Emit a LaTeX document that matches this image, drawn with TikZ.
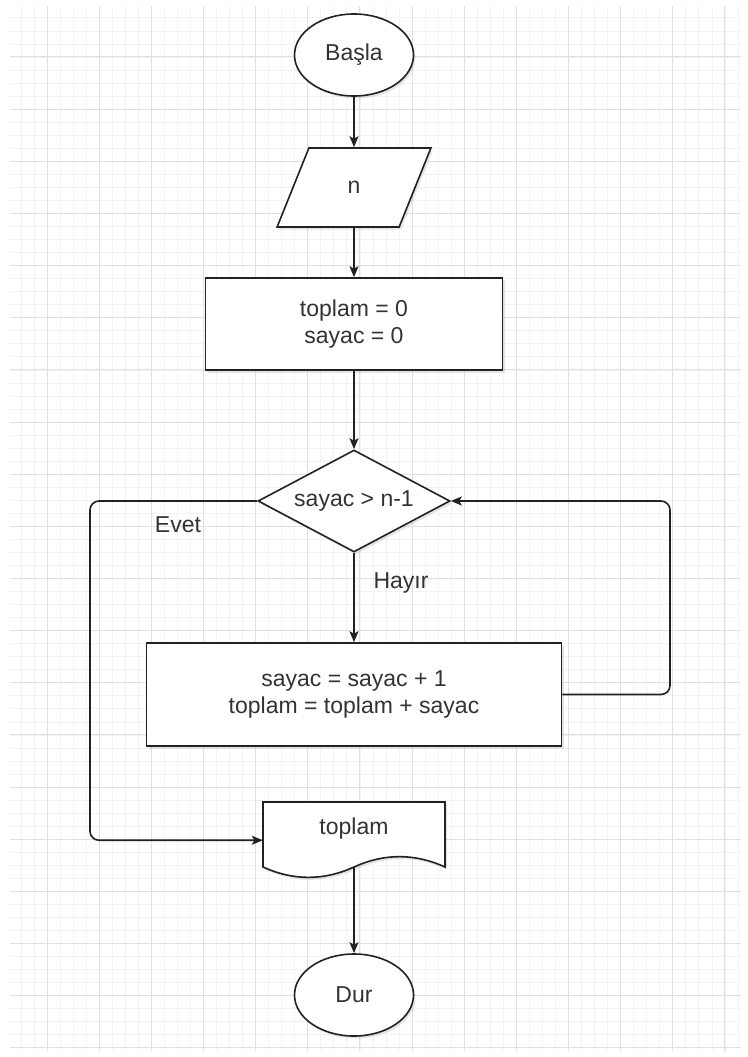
\documentclass[tikz,border=0pt]{standalone}
\usepackage{fontspec}
\setmainfont{Liberation Sans}
\usepackage{tikz}
\usetikzlibrary{shapes.geometric}
\usetikzlibrary{arrows.meta}
\usetikzlibrary{shadows}
\usetikzlibrary{calc}

\definecolor{gridminor}{HTML}{F3F3F3}
\definecolor{gridmajor}{HTML}{E0E0E0}
\definecolor{ink}{HTML}{222222}
\definecolor{labelgray}{HTML}{333333}

\begin{document}
\begin{tikzpicture}[x=1pt, y=-1pt,
    every node/.style={font=\fontsize{23}{27}\selectfont, text=labelgray},
    shapeline/.style={draw=ink, line width=1.6pt, fill=white, drop shadow={shadow xshift=2pt, shadow yshift=-2.5pt, opacity=0.2}},
    terminal/.style={shapeline, ellipse, minimum width=119pt, minimum height=82pt, inner sep=0pt},
    inbox/.style={shapeline, trapezium, trapezium left angle=70, trapezium right angle=110, trapezium stretches=true, minimum width=154pt, minimum height=79pt, inner sep=0pt},
    procbox/.style={shapeline, rectangle, align=center, inner sep=0pt},
    testbox/.style={shapeline, diamond, aspect=1.9, minimum width=192pt, minimum height=102pt, inner sep=0pt},
    flow/.style={draw=ink, line width=1.6pt, -{Stealth[length=11pt, width=9pt, inset=2.5pt]}},
]
    \useasboundingbox (0,0) rectangle (747,1057);
    \fill[white] (0,0) rectangle (747,1057);

    % grid
    \foreach \m in {-2,...,53}
        \draw[gridminor, line width=0.8pt] ({47+13.0375*\m},6) -- ({47+13.0375*\m},1051);
    \foreach \m in {-3,...,76}
        \draw[gridminor, line width=0.8pt] (10,{57+13.0375*\m}) -- (741,{57+13.0375*\m});
    \foreach \k in {0,...,13}
        \draw[gridmajor, line width=1pt] ({47+52.15*\k},6) -- ({47+52.15*\k},1051);
    \foreach \k in {0,...,19}
        \draw[gridmajor, line width=1pt] (10,{57+52.15*\k}) -- (741,{57+52.15*\k});

    \node[terminal] (start) at (354,55) {Başla};
    \node[inbox] (read) at (354,187.5) {n};
    \node[procbox, minimum width=297pt, minimum height=92pt] (init) at (354,324) {toplam = 0\\sayac = 0};
    \node[testbox] (test) at (354,501) {sayac > n-1};
    \node[procbox, minimum width=415pt, minimum height=103pt] (body) at (354,694.5) {sayac = sayac + 1\\toplam = toplam + sayac};

    % output document
    \node[minimum width=182pt, minimum height=76.5pt, inner sep=0pt] (out) at (354,840.25) {};
    \draw[shapeline] (263,802) -- (445,802) -- (445,867)
        .. controls (414.7,853.2) and (384.3,853.2) .. (354,867)
        .. controls (323.7,880.8) and (293.3,880.8) .. (263,867) -- cycle;
    \node (outlabel) at (354,829) {toplam};
    \coordinate (outwave) at (354,867);

    \node[terminal] (stop) at (354,995) {Dur};

    \coordinate (leftrail) at (90,0);
    \coordinate (rightrail) at (670,0);

    \draw[flow] (start) -- (read);
    \draw[flow] (read) -- (init);
    \draw[flow] (init) -- (test);
    \draw[flow] (test) -- (body);
    \draw[flow, rounded corners=9pt] (test.west) -| (leftrail |- out.west) -- (out.west);
    \draw[flow, rounded corners=9pt] (body.east) -| (rightrail |- test.east) -- (test.east);
    \draw[flow] (outwave) -- (stop);

    \node (yes) at (178,525) {Evet};
    \node (no) at (401,583) {Hayır};
\end{tikzpicture}
\end{document}
